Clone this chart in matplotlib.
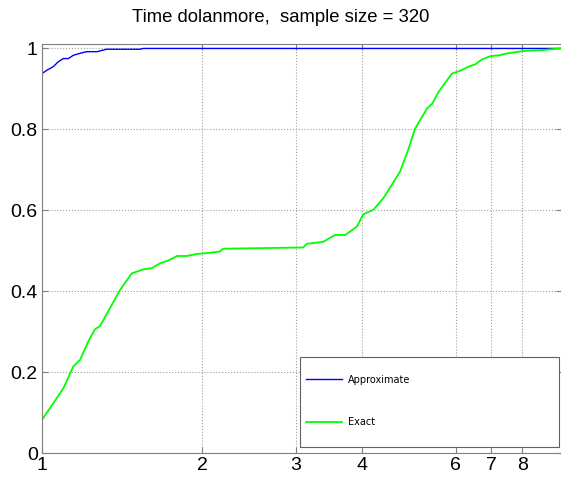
import matplotlib
matplotlib.use("Agg")
import matplotlib.pyplot as plt
from matplotlib.patches import Rectangle

# performance-profile style data
approx_x = [1.0, 1.021, 1.050, 1.073, 1.097, 1.121, 1.145, 1.179, 1.214, 1.268,
            1.323, 1.528, 1.551, 9.5]
approx_y = [0.938, 0.946, 0.955, 0.967, 0.975, 0.975, 0.983, 0.988, 0.992, 0.992,
            0.998, 0.998, 1.0, 1.0]

exact_x = [1.0, 1.050, 1.097, 1.145, 1.179, 1.222, 1.258, 1.286, 1.402, 1.475,
           1.551, 1.609, 1.667, 1.729, 1.794, 1.873, 1.954, 2.04, 2.16, 2.19,
           2.765, 3.099, 3.146, 3.379, 3.557, 3.718, 3.911, 4.018, 4.196, 4.385,
           4.71, 4.88, 5.03, 5.30, 5.42, 5.57, 5.90, 6.12, 6.34, 6.53,
           6.72, 6.97, 7.23, 7.51, 8.07, 8.77, 9.06, 9.5]
exact_y = [0.082, 0.123, 0.16, 0.214, 0.23, 0.276, 0.306, 0.314, 0.403, 0.444,
           0.454, 0.457, 0.469, 0.476, 0.487, 0.487, 0.492, 0.494, 0.498, 0.505,
           0.507, 0.508, 0.517, 0.522, 0.539, 0.539, 0.56, 0.59, 0.601, 0.63,
           0.695, 0.749, 0.802, 0.852, 0.864, 0.893, 0.938, 0.945, 0.955, 0.961,
           0.973, 0.981, 0.983, 0.988, 0.994, 0.996, 0.998, 1.0]

x_ticks = [1, 2, 3, 4, 6, 7, 8]
y_ticks = [0, 0.2, 0.4, 0.6, 0.8, 1]

plt.rcParams['font.family'] = ['Liberation Sans', 'DejaVu Sans']

fig = plt.figure(figsize=(5.61, 4.84), dpi=100)
ax = fig.add_axes([42 / 561, 31 / 484, 520 / 561, 408.6 / 484])

ax.plot(approx_x, approx_y, color='#0000ff', lw=1.0, label='Approximate')
ax.plot(exact_x, exact_y, color='#00ff00', lw=1.3, label='Exact')

ax.set_xscale('log')
ax.set_xlim(1, 9.5)
ax.set_ylim(0, 1.01)
ax.set_xticks(x_ticks)
ax.set_xticklabels([str(t) for t in x_ticks])
ax.minorticks_off()
ax.set_yticks(y_ticks)
ax.set_yticklabels(['0', '0.2', '0.4', '0.6', '0.8', '1'])
ax.tick_params(direction='in', labelsize=14, length=4, color='#808080',
               top=True, right=True, pad=3)
ax.grid(True, linestyle=':', color='#a0a0a0', lw=0.8)
for s in ax.spines.values():
    s.set_color('#808080')

# title is centred on the figure, not on the axes
fig.text(0.5, 1 - 18 / 484, 'Time dolanmore,  sample size = 320',
         fontsize=13.3, ha='center', va='center')

# legend box drawn by hand, entries placed inside it
ax.add_patch(Rectangle((0.4965, 0.0154), 0.498, 0.2205, transform=ax.transAxes,
                       facecolor='white', edgecolor='#606060', lw=0.8, zorder=4))
leg = ax.legend(loc='upper left', bbox_to_anchor=(0.4965, 0.2055),
                borderaxespad=0, frameon=False,
                prop={'family': 'DejaVu Sans', 'size': 7},
                handlelength=3.7, handletextpad=0.6, labelspacing=3.3, borderpad=0.6)
leg.set_zorder(5)

fig.savefig('out.png', dpi=100)
